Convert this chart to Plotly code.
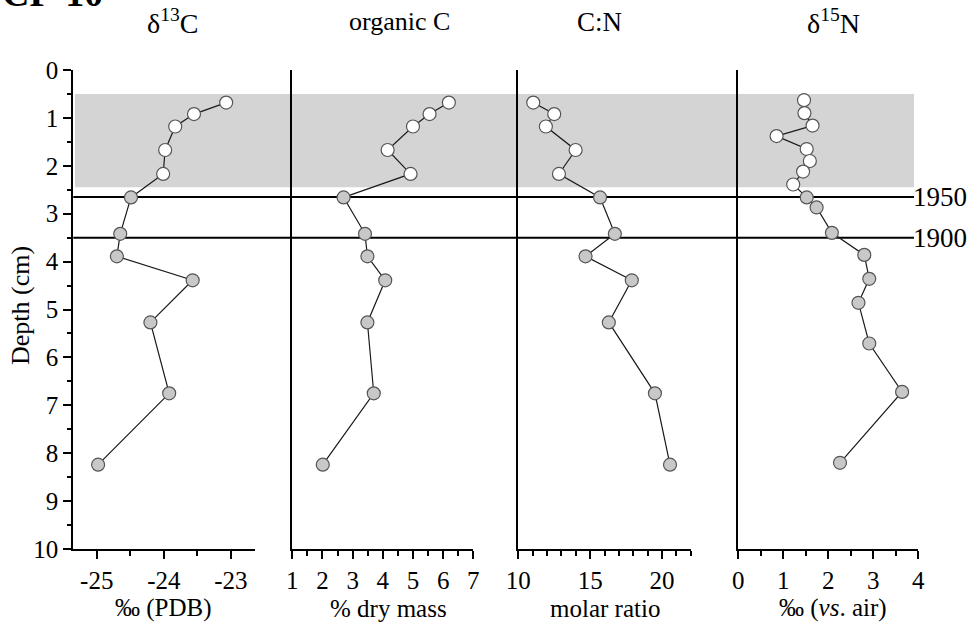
import plotly.graph_objects as go

# ---------------- data ----------------
depth_a = [0.68, 0.92, 1.18, 1.67, 2.17, 2.66, 3.42, 3.89, 4.39, 5.27, 6.75, 8.24]
d13c = [-23.07, -23.55, -23.83, -23.98, -24.01, -24.49, -24.65, -24.70, -23.57, -24.20, -23.92, -24.98]
org_c = [6.19, 5.55, 5.00, 4.16, 4.92, 2.70, 3.41, 3.49, 4.08, 3.49, 3.70, 2.01]
cn = [11.04, 12.50, 11.92, 13.99, 12.83, 15.69, 16.72, 14.68, 17.90, 16.30, 19.51, 20.56]

depth_n = [0.63, 0.90, 1.16, 1.38, 1.65, 1.90, 2.12, 2.39, 2.66, 2.87, 3.40, 3.86, 4.36, 4.86, 5.71, 6.72, 8.20]
d15n = [1.46, 1.47, 1.65, 0.85, 1.52, 1.59, 1.44, 1.22, 1.52, 1.74, 2.08, 2.80, 2.91, 2.67, 2.91, 3.64, 2.26]

panel_titles = ["δ<sup>13</sup>C", "organic C", "C:N", "δ<sup>15</sup>N"]
x_titles = ["‰ (PDB)", "% dry mass", "molar ratio", "‰ (<i>vs</i>. air)"]
x_ranges = [[-25.35, -22.64], [1, 7], [10, 22], [0, 4]]
x_tickvals = [[-25, -24, -23], [1, 2, 3, 4, 5, 6, 7], [10, 15, 20], [0, 1, 2, 3, 4]]
x_ticktext = [["-25", "-24", "-23"], ["1", "2", "3", "4", "5", "6", "7"], ["10", "15", "20"], ["0", "1", "2", "3", "4"]]
x_minor = [0.5, 0.5, 1, 0.5]
shade_range = [0.5, 2.45]
year_depths = [2.65, 3.5]
year_labels = ["1950", "1900"]
y_ticks = list(range(0, 11))

# ---------------- layout helpers ----------------
W, H = 969, 623
def px(x):
    return x / W
def py(y):
    return 1 - y / H

FONT = "Liberation Serif"
TF = 25
x_domains = [(73.3, 255), (292.3, 473.3), (518.3, 690.7), (738.3, 918.3)]
y_dom = [py(549), py(70)]
SHADE_TOP = 2.5  # depth separating white/grey symbols

fig = go.Figure()
series = [(d13c, depth_a), (org_c, depth_a), (cn, depth_a), (d15n, depth_n)]
for i, (vals, dep) in enumerate(series):
    ax = "" if i == 0 else str(i + 1)
    fills = ["white" if d < SHADE_TOP else "#c8c8c8" for d in dep]
    fig.add_trace(go.Scatter(
        x=vals, y=dep, mode="lines+markers",
        xaxis="x" + ax, yaxis="y" + ax,
        line=dict(color="#1a1a1a", width=1.2),
        marker=dict(size=13, color=fills, line=dict(color="#555555", width=1.2)),
        showlegend=False, hoverinfo="x+y",
    ))

layout = dict(
    width=W, height=H, margin=dict(l=0, r=0, t=0, b=0, pad=0, autoexpand=False),
    paper_bgcolor="white", plot_bgcolor="rgba(0,0,0,0)",
    font=dict(family=FONT, size=TF, color="black"),
    showlegend=False,
)
for i in range(4):
    ax = "" if i == 0 else str(i + 1)
    layout["xaxis" + ax] = dict(
        domain=[px(x_domains[i][0]), px(x_domains[i][1])],
        range=x_ranges[i], anchor="y" + ax, automargin=False,
        showline=True, linecolor="black", linewidth=2,
        ticks="outside", ticklen=8, tickwidth=2, tickcolor="black",
        tickmode="array", tickvals=x_tickvals[i], ticktext=x_ticktext[i],
        minor=dict(ticks="outside", ticklen=5, tickwidth=2, tickcolor="black",
                   dtick=x_minor[i], tick0=0, showgrid=False),
        showgrid=False, zeroline=False,
        tickfont=dict(family=FONT, size=TF, color="black"),
        fixedrange=True,
    )
    ydict = dict(
        domain=y_dom, range=[10, 0], anchor="x" + ax, automargin=False,
        showline=True, linecolor="black", linewidth=2,
        showgrid=False, zeroline=False, fixedrange=True,
    )
    if i == 0:
        ydict.update(
            tickmode="array", tickvals=y_ticks, ticktext=[str(t) for t in y_ticks],
            ticks="outside", ticklen=8, tickwidth=2, tickcolor="black",
            minor=dict(ticks="outside", ticklen=4, tickwidth=2, tickcolor="black",
                       dtick=0.5, tick0=0, showgrid=False),
            tickfont=dict(family=FONT, size=TF, color="black"),
        )
    else:
        ydict.update(showticklabels=False, ticks="")
    layout["yaxis" + ax] = ydict

shapes = [dict(type="rect", xref="paper", yref="y", x0=px(75), x1=px(914),
               y0=shade_range[0], y1=shade_range[1], fillcolor="#d4d4d4",
               line=dict(width=0), layer="below")]
for d in year_depths:
    shapes.append(dict(type="line", xref="paper", yref="y", x0=px(73.3), x1=px(914),
                       y0=d, y1=d, line=dict(color="black", width=2), layer="below"))
layout["shapes"] = shapes

ann = []
title_x = [172, 399, 599, 833]
title_sizes = [28, 26, 27, 28]
for i in range(4):
    ann.append(dict(text=panel_titles[i], x=px(title_x[i]), y=py(22), xref="paper", yref="paper",
                    showarrow=False, xanchor="center", yanchor="middle",
                    font=dict(family=FONT, size=title_sizes[i], color="black")))
xt_x = [163, 388, 605, 833]
for i in range(4):
    ann.append(dict(text=x_titles[i], x=px(xt_x[i]), y=py(608), xref="paper", yref="paper",
                    showarrow=False, xanchor="center", yanchor="middle",
                    font=dict(family=FONT, size=TF, color="black")))
for d, lab in zip(year_depths, year_labels):
    ann.append(dict(text=lab, x=px(911), y=d, xref="paper", yref="y",
                    showarrow=False, xanchor="left", yanchor="middle",
                    font=dict(family=FONT, size=27, color="black")))
ann.append(dict(text="Depth (cm)", x=px(20), y=py(306), xref="paper", yref="paper",
                showarrow=False, textangle=-90, xanchor="center", yanchor="middle",
                font=dict(family=FONT, size=26, color="black")))
ann.append(dict(text="<b>CF-10</b>", x=0, y=py(16), xref="paper", yref="paper",
                showarrow=False, xanchor="left", yanchor="bottom",
                font=dict(family=FONT, size=38, color="black")))
layout["annotations"] = ann

fig.update_layout(**layout)
fig.write_html("out.html")
